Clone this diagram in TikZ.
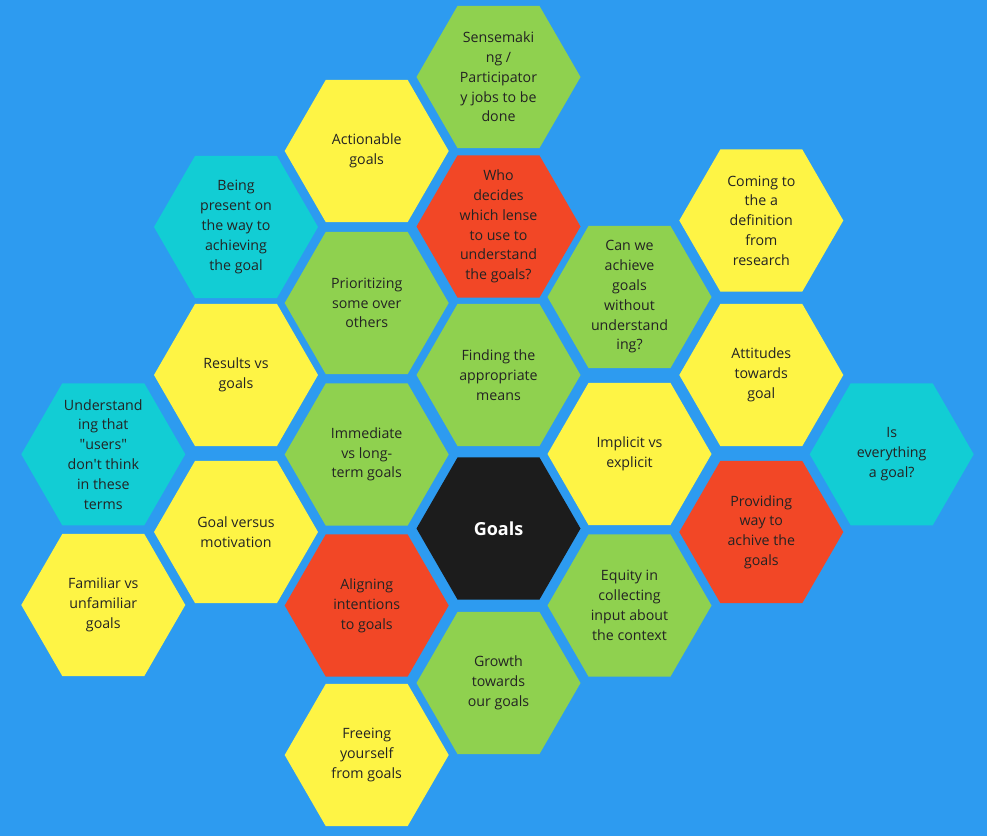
\documentclass[tikz,border=0pt]{standalone}
\usepackage{fontspec}
\setmainfont{Open Sans}
\definecolor{boardblue}{RGB}{45, 155, 240}
\definecolor{hexgreen}{RGB}{143, 209, 79}
\definecolor{hexyellow}{RGB}{254, 244, 69}
\definecolor{hexred}{RGB}{242, 71, 38}
\definecolor{hexcyan}{RGB}{18, 205, 212}
\definecolor{hexblack}{RGB}{28, 28, 28}
\definecolor{inkdark}{RGB}{35, 35, 35}

\tikzset{
  celltext/.style={inner sep=0pt, align=center, text=inkdark, font=\fontsize{14.2}{19.8}\selectfont},
  hubtext/.style={celltext, text=white, font=\fontsize{18}{22}\selectfont\bfseries}
}

% one honeycomb cell: x, y, colour, name, text
\newcommand{\hexr}{82}
\newcommand{\hexcell}[6][celltext]{%
  \fill[#4] (#2,#3) +(0:\hexr) -- +(60:\hexr) -- +(120:\hexr) -- +(180:\hexr) -- +(240:\hexr) -- +(300:\hexr) -- cycle;
  \node[#1] (#5) at (#2,#3) {#6};
}

\begin{document}
\begin{tikzpicture}[x=1pt, y=-1pt]
  \fill[boardblue] (0,0) rectangle (987,836);
  \useasboundingbox (0,0) rectangle (987,836);

  % centre column
  \hexcell{498.5}{77}{hexgreen}{sensemaking}{Sensemaki\\ng /\\Participator\\y jobs to be\\done}
  \hexcell{498.5}{226.5}{hexred}{lense}{Who\\decides\\which lense\\to use to\\understand\\the goals?}
  \hexcell{498.5}{375}{hexgreen}{means}{Finding the\\appropriate\\means}
  \hexcell[hubtext]{498.5}{528.5}{hexblack}{goals}{Goals}
  \hexcell{498.5}{683}{hexgreen}{growth}{Growth\\towards\\our goals}

  % left side
  \hexcell{366.7}{151}{hexyellow}{actionable}{Actionable\\goals}
  \hexcell{366.7}{303}{hexgreen}{prioritizing}{Prioritizing\\some over\\others}
  \hexcell{366.7}{454.5}{hexgreen}{immediate}{Immediate\\vs long-\\term goals}
  \hexcell{366.7}{605.5}{hexred}{aligning}{Aligning\\intentions\\to goals}
  \hexcell{366.7}{755}{hexyellow}{freeing}{Freeing\\yourself\\from goals}

  \hexcell{236}{227}{hexcyan}{present}{Being\\present on\\the way to\\achieving\\the goal}
  \hexcell{236}{375}{hexyellow}{results}{Results vs\\goals}
  \hexcell{236}{532}{hexyellow}{motivation}{Goal versus\\motivation}

  \hexcell{103.3}{454.3}{hexcyan}{users}{Understand\\ing that\\\textquotedbl users\textquotedbl\\don\textquotesingle t think\\in these\\terms}
  \hexcell{103.3}{605}{hexyellow}{familiar}{Familiar vs\\unfamiliar\\goals}

  % right side
  \hexcell{629.5}{297}{hexgreen}{without}{Can we\\achieve\\goals\\without\\understand\\ing?}
  \hexcell{629.5}{454}{hexyellow}{implicit}{Implicit vs\\explicit}
  \hexcell{629.5}{605.5}{hexgreen}{equity}{Equity in\\collecting\\input about\\the context}

  \hexcell{761.3}{220.5}{hexyellow}{definition}{Coming to\\the a\\definition\\from\\research}
  \hexcell{761.3}{375}{hexyellow}{attitudes}{Attitudes\\towards\\goal}
  \hexcell{761.3}{532}{hexred}{providing}{Providing\\way to\\achive the\\goals}

  \hexcell{891.7}{454.3}{hexcyan}{everything}{Is\\everything\\a goal?}
\end{tikzpicture}
\end{document}
